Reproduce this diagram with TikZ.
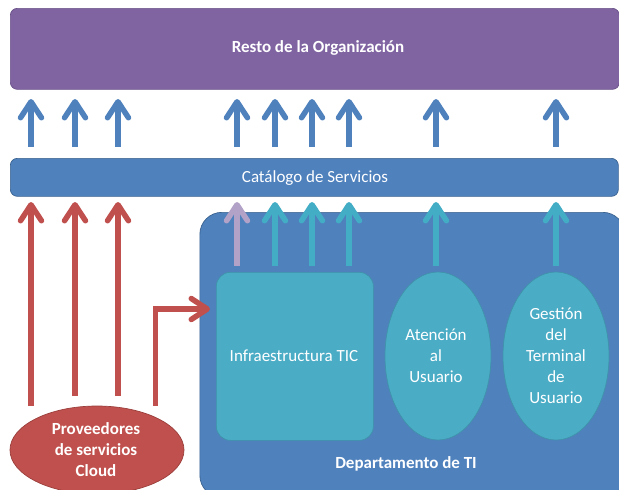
\documentclass[tikz,border=0pt]{standalone}
\usepackage{fontspec}
\setmainfont{Carlito}
\usetikzlibrary{arrows.meta,shapes.geometric}
\definecolor{purp}{HTML}{8064A2}
\definecolor{purpe}{HTML}{6A5288}
\definecolor{blu}{HTML}{4F81BD}
\definecolor{blue}{HTML}{3A628F}
\definecolor{tea}{HTML}{4BACC6}
\definecolor{teae}{HTML}{3F93AA}
\definecolor{teaar}{HTML}{42ADC5}
\definecolor{red1}{HTML}{C0504D}
\definecolor{rede}{HTML}{9A3E3B}
\definecolor{lil}{HTML}{B2A2C7}
\tikzset{
  box/.style={rounded corners=#1,draw,line width=0.7pt,inner sep=0pt,text=white},
  purpbox/.style={box=7pt,fill=purp,draw=purpe},
  blubox/.style={box=7pt,fill=blu,draw=blue},
  deptbox/.style={box=22pt,fill=blu,draw=blue},
  teabox/.style={box=14pt,fill=tea,draw=teae},
  oval/.style={ellipse,draw,line width=0.7pt,inner sep=0pt,text=white,align=center},
  teaoval/.style={oval,fill=tea,draw=teae},
  redoval/.style={oval,fill=red1,draw=rede},
  flow/.style={line width=5.5pt,-{Straight Barb[length=16pt,width=21pt,line width=5.5pt,round]}},
  bluflow/.style={flow,draw=blu},
  teaflow/.style={flow,draw=teaar},
  lilflow/.style={flow,draw=lil},
  redflow/.style={flow,draw=red1},
  lab/.style={font=\fontsize{17}{21}\selectfont,text=white,align=center},
  blab/.style={lab,font=\fontsize{17}{21}\selectfont\bfseries}
}
\begin{document}
\begin{tikzpicture}[x=1pt,y=-1pt]
\useasboundingbox (0,0) rectangle (619,490);
\node[purpbox,minimum width=609pt,minimum height=81pt,anchor=north west] (org) at (10,8) {};
\node[blab] (orgt) at (318,48) {Resto de la Organización};
\node[blubox,minimum width=608pt,minimum height=38pt,anchor=north west] (cat) at (10,158) {};
\node[lab] (catt) at (315,178) {Catálogo de Servicios};
\node[deptbox,minimum width=425pt,minimum height=285pt,anchor=north west] (dept) at (199.5,212) {};
\node[blab] (deptt) at (406,464) {Departamento de TI};
\node[teabox,minimum width=157pt,minimum height=168pt,anchor=north west] (infra) at (216,272) {};
\node[lab] (infrat) at (294,356) {Infraestructura TIC};
\node[teaoval,minimum width=106pt,minimum height=168pt] (aten) at (438,356) {};
\node[lab] (atent) at (436,356) {Atención\\al\\Usuario};
\node[teaoval,minimum width=106pt,minimum height=168pt] (gest) at (556,356) {};
\node[lab] (gestt) at (556,356) {Gestión\\del\\Terminal\\de\\Usuario};
\node[redoval,minimum width=174pt,minimum height=88pt] (prov) at (97,450) {};
\node[blab] (provt) at (96,450) {Proveedores\\de servicios\\Cloud};
% upper arrows
\foreach \i/\x in {1/31,2/75,3/118,4/237,5/275,6/312,7/349,8/436,9/556}{
  \coordinate (us\i) at (\x,147);
  \coordinate (ue\i) at (\x,99);
  \draw[bluflow] (us\i) -- (ue\i);
}
% lower arrows from the department
\coordinate (ls4) at (237,266); \coordinate (le4) at (237,202);
\draw[lilflow] (ls4) -- (le4);
\foreach \i/\x in {5/275,6/312,7/349,8/436,9/556}{
  \coordinate (ls\i) at (\x,266);
  \coordinate (le\i) at (\x,202);
  \draw[teaflow] (ls\i) -- (le\i);
}
% red arrows
\foreach \i/\x/\y in {1/31/406,2/75/396,3/118/396}{
  \coordinate (rs\i) at (\x,\y);
  \coordinate (re\i) at (\x,202);
  \draw[redflow] (rs\i) -- (re\i);
}
\coordinate (rs4) at (155.5,406);
\coordinate (re4) at (210,309);
\draw[redflow,line join=miter] (rs4) |- (re4);
\end{tikzpicture}
\end{document}
